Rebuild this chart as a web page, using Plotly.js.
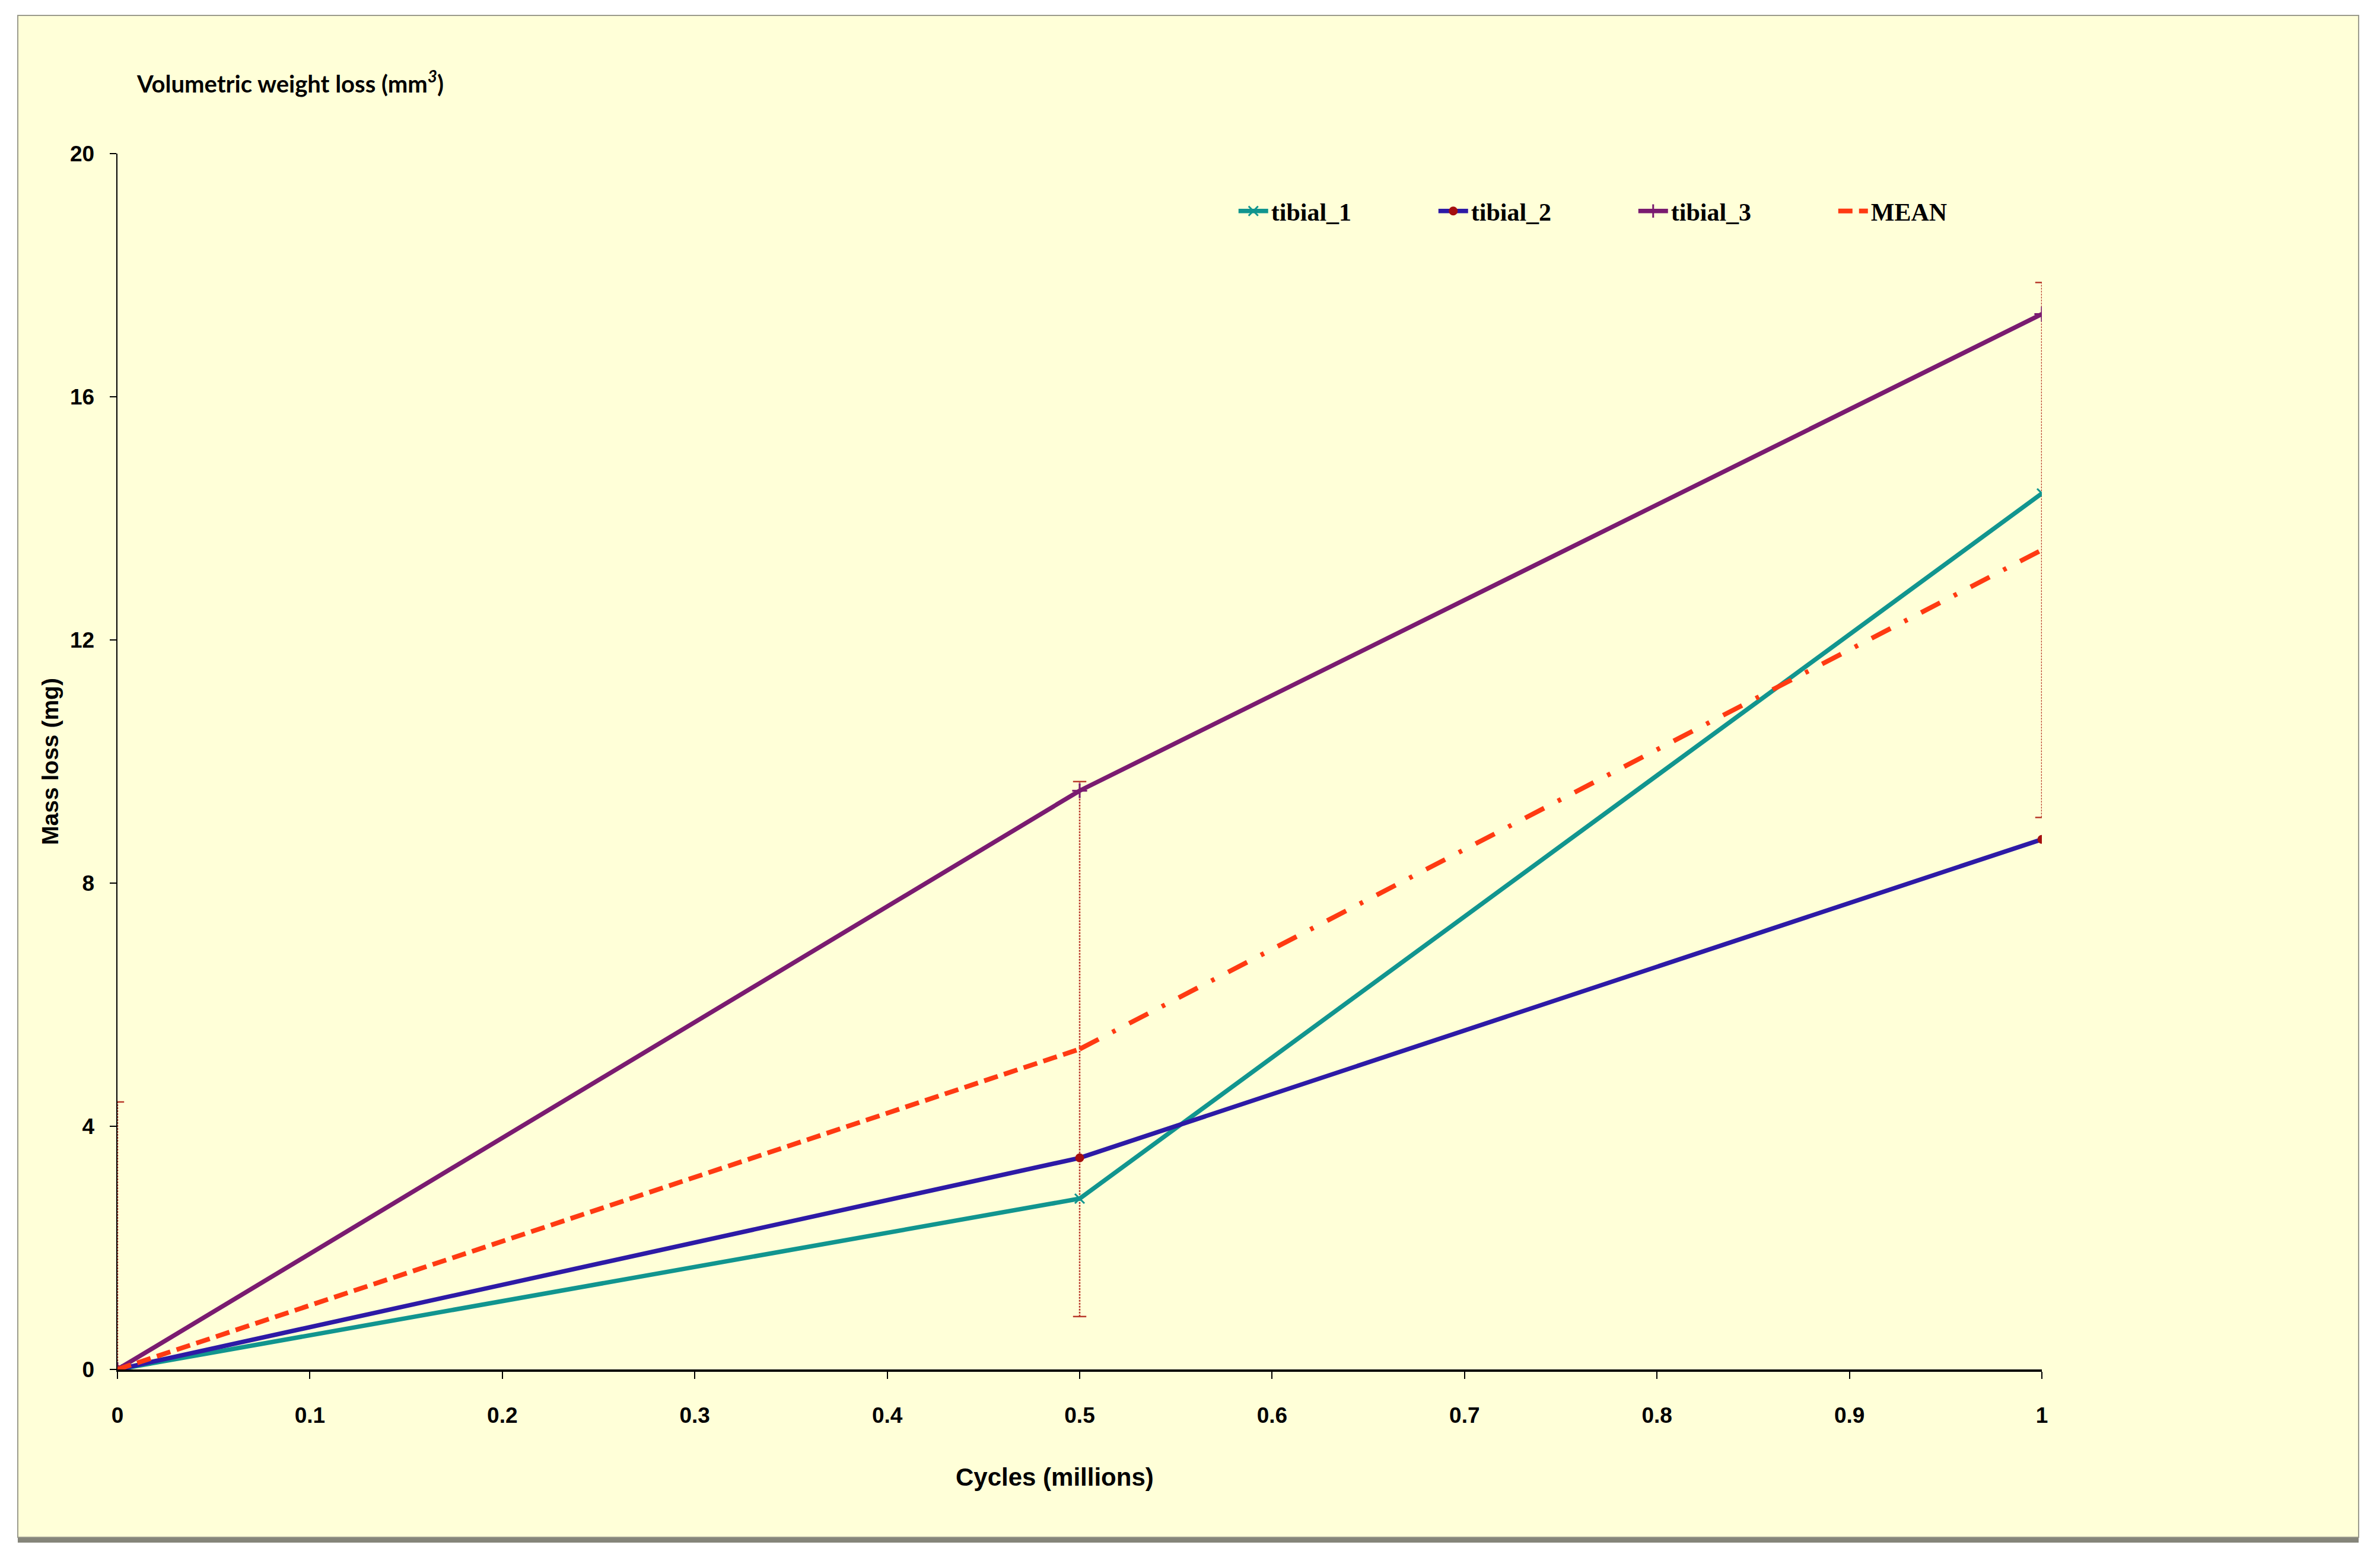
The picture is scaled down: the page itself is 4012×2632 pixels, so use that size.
<!DOCTYPE html>
<html><head><meta charset="utf-8">
<script src="https://cdn.plot.ly/plotly-3.0.1.min.js"></script>
<style>html,body{margin:0;padding:0;background:#fff}#chart{width:4012px;height:2632px}</style>
</head><body><div id="chart"></div>
<script>
// ---- data ----
const cycles   = [0, 0.5, 1];
const tibial1  = [0, 2.81, 14.41];
const tibial2  = [0, 3.48, 8.72];
const tibial3  = [0, 9.52, 17.36];
const meanLoss = [0, 5.27, 13.48];
const errHalf  = [4.4, 4.4, 4.4];
const xTickVals = [0, 0.1, 0.2, 0.3, 0.4, 0.5, 0.6, 0.7, 0.8, 0.9, 1];
const xTickText = ['0', '0.1', '0.2', '0.3', '0.4', '0.5', '0.6', '0.7', '0.8', '0.9', '1'];
const yTickVals = [0, 4, 8, 12, 16, 20];
const seriesNames = ['tibial_1', 'tibial_2', 'tibial_3', 'MEAN'];
const xTitle = 'Cycles (millions)';
const yTitle = 'Mass loss (mg)';
const topLabel = 'Volumetric weight loss (mm<sup><i>3</i></sup>)';

const errColor = '#b8392b';
const traces = [];

// error bars (dotted, with caps)
cycles.forEach((c, i) => {
  traces.push({
    x: [c, c], y: [meanLoss[i] - errHalf[i], meanLoss[i] + errHalf[i]],
    mode: 'lines+markers', type: 'scatter', showlegend: false, hoverinfo: 'skip',
    line: {color: errColor, width: 2.5, dash: '3px,2px'},
    marker: {symbol: 'line-ew-open', size: 16, line: {color: errColor, width: 2.5}}
  });
});

traces.push({
  x: cycles, y: tibial1, name: seriesNames[0], mode: 'lines+markers', type: 'scatter',
  line: {color: '#11958f', width: 7.5},
  marker: {symbol: 'x-thin-open', size: 16, line: {color: '#7b4a9e', width: 3}}
});
traces.push({
  x: cycles, y: tibial2, name: seriesNames[1], mode: 'lines+markers', type: 'scatter',
  line: {color: '#2d1aa6', width: 7.5},
  marker: {symbol: 'circle', size: 15, color: '#a50f0f'}
});
traces.push({
  x: cycles, y: tibial3, name: seriesNames[2], mode: 'lines+markers', type: 'scatter',
  line: {color: '#7a1b70', width: 7.5},
  marker: {symbol: 'cross-thin-open', size: 18, line: {color: '#2b8fa0', width: 3}}
});
// MEAN: dashed to the middle point, dash-dot afterwards
traces.push({
  x: cycles.slice(0, 2), y: meanLoss.slice(0, 2), name: seriesNames[3], mode: 'lines', type: 'scatter',
  legendgroup: 'mean',
  line: {color: '#ff3a12', width: 8, dash: '24px,11px'}
});
traces.push({
  x: cycles.slice(1), y: meanLoss.slice(1), name: seriesNames[3], mode: 'lines', type: 'scatter',
  legendgroup: 'mean', showlegend: false,
  line: {color: '#ff3a12', width: 8, dash: '36px,26px,6px,26px'}
});

const baseFont = {family: 'Liberation Sans, Arial, sans-serif', color: '#000', weight: 'bold'};

const layout = {
  width: 4012, height: 2632,
  paper_bgcolor: '#ffffff', plot_bgcolor: 'rgba(0,0,0,0)',
  margin: {l: 198, r: 570, t: 259, b: 323, pad: 0},
  showlegend: true,
  legend: {
    orientation: 'h', x: 0.581, y: 0.9527, xanchor: 'left', yanchor: 'middle',
    bgcolor: 'rgba(0,0,0,0)', entrywidth: 272, entrywidthmode: 'pixels', itemwidth: 50,
    font: {family: 'Liberation Serif, Times New Roman, serif', size: 42, color: '#000', weight: 'bold'}
  },
  xaxis: {
    range: [0, 1], tickvals: xTickVals, ticktext: xTickText,
    showgrid: false, zeroline: false, showline: true, linecolor: '#000', linewidth: 4,
    ticks: 'outside', ticklen: 12, tickwidth: 2, tickcolor: '#000',
    ticklabelstandoff: 30,
    tickfont: Object.assign({size: 37}, baseFont)
  },
  yaxis: {
    range: [0, 20], tickvals: yTickVals,
    showgrid: false, zeroline: false, showline: true, linecolor: '#000', linewidth: 2.5,
    ticks: 'outside', ticklen: 11, tickwidth: 2, tickcolor: '#000',
    ticklabelstandoff: 18,
    tickfont: Object.assign({size: 37}, baseFont),
    title: {text: yTitle, font: Object.assign({size: 39}, baseFont), standoff: 8}
  },
  shapes: [
    {type: 'rect', xref: 'paper', yref: 'paper', layer: 'below',
     x0: -0.0518, x1: 1.1646, y0: -0.138, y1: 1.1137,
     fillcolor: '#ffffd8', line: {color: '#9a9a8c', width: 2}},
    {type: 'line', xref: 'paper', yref: 'paper', layer: 'below',
     x0: -0.0518, x1: 1.1646, y0: -0.1405, y1: -0.1405,
     line: {color: '#85857a', width: 8}}
  ],
  annotations: [
    {xref: 'paper', yref: 'paper', x: 0.00925, y: 1.059, xanchor: 'left', yanchor: 'middle',
     showarrow: false, text: topLabel,
     font: {family: 'Lato, Open Sans, sans-serif', size: 40, color: '#000', weight: 'bold'}},
    {xref: 'paper', yref: 'paper', x: 0.487, y: -0.0883, xanchor: 'center', yanchor: 'middle',
     showarrow: false, text: xTitle,
     font: Object.assign({size: 42}, baseFont)}
  ]
};

Plotly.newPlot('chart', traces, layout, {displayModeBar: false, staticPlot: true});
</script></body></html>
